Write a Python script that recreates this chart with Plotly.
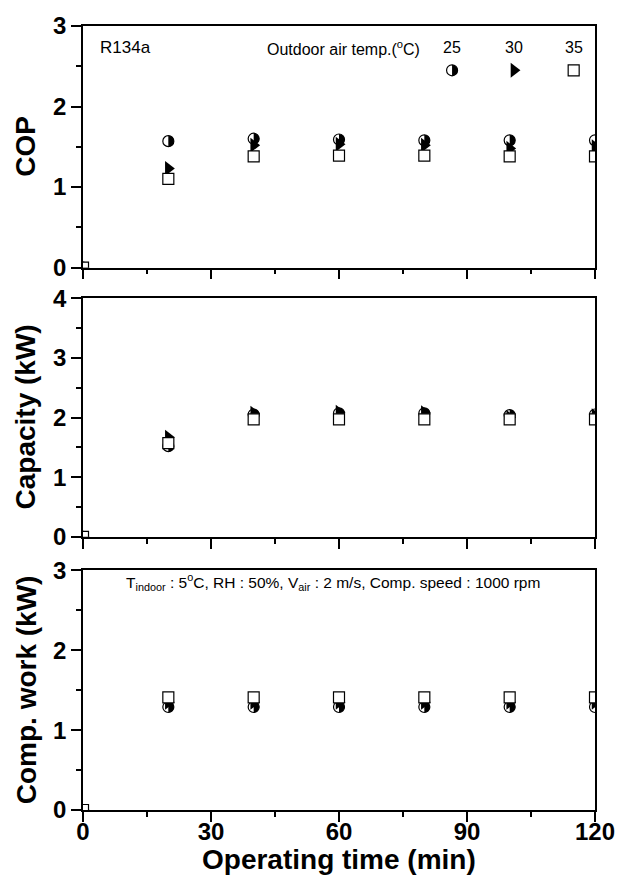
import numpy as np
import plotly.graph_objects as go

# Operating time (min) and measured values for three outdoor air temperatures
time_min = [0, 20, 40, 60, 80, 100, 120]
outdoor_temps = ["25", "30", "35"]

cop_25 = [0, 1.57, 1.60, 1.59, 1.58, 1.58, 1.58]
cop_30 = [0, 1.23, 1.52, 1.53, 1.52, 1.48, 1.50]
cop_35 = [0, 1.10, 1.38, 1.39, 1.39, 1.38, 1.38]

cap_25 = [0, 1.52, 2.05, 2.07, 2.07, 2.04, 2.05]
cap_30 = [0, 1.67, 2.07, 2.09, 2.08, 2.00, 2.03]
cap_35 = [0, 1.57, 1.97, 1.97, 1.97, 1.97, 1.97]

work_25 = [0, 1.29, 1.29, 1.29, 1.29, 1.29, 1.29]
work_30 = [0, 1.35, 1.35, 1.35, 1.35, 1.35, 1.35]
work_35 = [0, 1.41, 1.41, 1.41, 1.41, 1.41, 1.41]

y_titles = ["COP", "Capacity (kW)", "Comp. work (kW)"]
y_ranges = [[0, 3], [0, 4], [0, 3]]
x_ticks = [0, 30, 60, 90, 120]

panels = [
    (cop_25, cop_30, cop_35),
    (cap_25, cap_30, cap_35),
    (work_25, work_30, work_35),
]

W, H = 629, 882
ML, MR, MT, MB = 83, 34, 18, 72
FONT = "Liberation Sans, Arial, sans-serif"

# panel vertical extents in pixels (top, bottom)
panel_px = [(18, 262), (293, 534), (568, 810)]
plot_h = H - MT - MB


def dom(top, bot):
    return [(H - MB - bot) / plot_h, (H - MB - top) / plot_h]


fig = go.Figure()

circle_style = dict(symbol="circle", size=11, color="rgba(0,0,0,0)",
                    line=dict(color="black", width=1.2))
tri_style = dict(symbol="triangle-right", size=13, color="black",
                 line=dict(color="black", width=0))
sq_style = dict(symbol="square", size=11, color="white",
                line=dict(color="black", width=1.2))
styles = [circle_style, tri_style, sq_style]

# right-half disc path (pixels relative to the marker centre)
r = 5.5
th = np.linspace(-np.pi / 2, np.pi / 2, 17)
half_path = "M " + " L ".join(f"{r*np.cos(a):.2f},{r*np.sin(a):.2f}" for a in th) + " Z"

shapes = []
for i, series in enumerate(panels):
    xa = "x" if i == 0 else f"x{i+1}"
    ya = "y" if i == 0 else f"y{i+1}"
    for name, vals, st in zip(outdoor_temps, series, styles):
        fig.add_trace(go.Scatter(x=time_min, y=vals, mode="markers", name=name,
                                 marker=st, xaxis=xa, yaxis=ya, showlegend=False))
    # filled right half of the 25 °C circles
    for t, v in zip(time_min, series[0]):
        shapes.append(dict(type="path", xref=xa, yref=ya, xsizemode="pixel",
                           ysizemode="pixel", xanchor=t, yanchor=v, path=half_path,
                           fillcolor="black", line=dict(width=0), layer="below"))

# legend keys drawn inside the COP panel
key_x = [86.5, 101, 115]
key_y = 2.45
lab_y = 2.73
for name, kx, st in zip(outdoor_temps, key_x, styles):
    fig.add_trace(go.Scatter(x=[kx], y=[key_y], mode="markers", marker=st,
                             xaxis="x", yaxis="y", showlegend=False, hoverinfo="skip"))
shapes.append(dict(type="path", xref="x", yref="y", xsizemode="pixel", ysizemode="pixel",
                   xanchor=key_x[0], yanchor=key_y, path=half_path,
                   fillcolor="black", line=dict(width=0), layer="below"))

tickfont = dict(family=FONT, size=24, color="black", weight="bold")
axis_common = dict(showline=True, linecolor="black", linewidth=1.6, mirror=True,
                   ticks="outside", ticklen=10, tickwidth=1.6, tickcolor="black",
                   showgrid=False, zeroline=False, tickfont=tickfont)

layout = dict(width=W, height=H, margin=dict(l=ML, r=MR, t=MT, b=MB),
              paper_bgcolor="white", plot_bgcolor="rgba(0,0,0,0)",
              showlegend=False, shapes=shapes)

for i in range(3):
    sfx = "" if i == 0 else str(i + 1)
    top, bot = panel_px[i]
    layout[f"xaxis{sfx}"] = dict(axis_common, range=[0, 120], tickvals=x_ticks,
                                 showticklabels=(i == 2), anchor=f"y{sfx}",
                                 domain=[0, 1], ticklabelstandoff=-11,
                                 minor=dict(dtick=15, tick0=0, ticklen=5, ticks="outside",
                                            tickwidth=1.6, tickcolor="black"))
    layout[f"yaxis{sfx}"] = dict(axis_common, range=y_ranges[i], dtick=1, tick0=0,
                                 anchor=f"x{sfx}", domain=dom(top, bot),
                                 minor=dict(dtick=0.5, tick0=0, ticklen=5, ticks="outside",
                                            tickwidth=1.6, tickcolor="black"))

fig.update_layout(**layout)

title_font = dict(family=FONT, size=28, color="black", weight="bold")
ann = []
for i, title in enumerate(y_titles):
    top, bot = panel_px[i]
    ann.append(dict(text=title, textangle=-90, xref="paper", yref="paper",
                    x=(26 - ML) / (W - ML - MR), y=sum(dom(top, bot)) / 2,
                    xanchor="center", yanchor="middle", showarrow=False,
                    font=title_font))

ann.append(dict(text="Operating time (min)", xref="paper", yref="paper", x=0.5,
                y=(H - MB - 860) / plot_h, xanchor="center", yanchor="middle",
                showarrow=False, font=title_font))

small = dict(family=FONT, size=16, color="black")
ann.append(dict(text="R134a", xref="x", yref="y", x=3.4, y=lab_y, xanchor="left",
                yanchor="middle", showarrow=False, font=dict(small, size=17)))
ann.append(dict(text="Outdoor air temp.(<sup>o</sup>C)", xref="x", yref="y", x=79.5,
                y=lab_y, xanchor="right", yanchor="middle", showarrow=False, font=small))
for name, kx in zip(outdoor_temps, key_x):
    ann.append(dict(text=name, xref="x", yref="y", x=kx, y=lab_y, xanchor="center",
                    yanchor="middle", showarrow=False, font=small))

ann.append(dict(text="T<sub>indoor</sub> : 5<sup>o</sup>C, RH : 50%, V<sub>air</sub> : 2 m/s, "
                     "Comp. speed : 1000 rpm",
                xref="x3", yref="y3", x=9.7, y=2.86, xanchor="left", yanchor="middle",
                showarrow=False, font=dict(family=FONT, size=15.5, color="black")))

fig.update_layout(annotations=ann)
fig.write_html("out.html")
